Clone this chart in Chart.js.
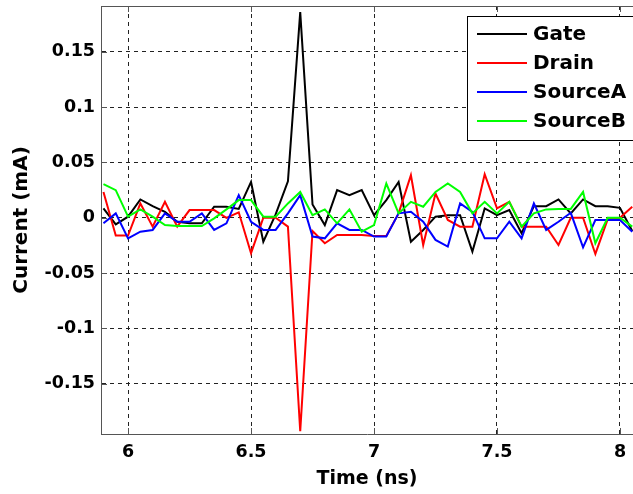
<!DOCTYPE html>
<html>
<head>
<meta charset="utf-8">
<script src="https://cdn.jsdelivr.net/npm/chart.js@4/dist/chart.umd.min.js"></script>
<style>
  body { margin: 0; background: #fff; }
  canvas { display: block; }
</style>
</head>
<body>
<canvas id="chart" width="633" height="494"></canvas>
<script>
// Time samples (ns)
const time = [5.9, 5.95, 6.0, 6.05, 6.1, 6.15, 6.2, 6.25, 6.3, 6.35, 6.4, 6.45, 6.5, 6.55, 6.6, 6.65,
    6.7, 6.75, 6.8, 6.85, 6.9, 6.95, 7.0, 7.05, 7.1, 7.15, 7.2, 7.25, 7.3, 7.35, 7.4, 7.45,
    7.5, 7.55, 7.6, 7.65, 7.7, 7.75, 7.8, 7.85, 7.9, 7.95, 8.0, 8.05];

// Currents (mA)
const gate = [0.0085, -0.006, 0.001, 0.0166, 0.0105, 0.0054, -0.0036, -0.005, -0.005, 0.01, 0.01, 0.008,
    0.0324, -0.0216, 0.003, 0.033, 0.186, 0.012, -0.0066, 0.025, 0.0205, 0.025, 0.0024, 0.016,
    0.0324, -0.0216, -0.011, 0.001, 0.0024, 0.0024, -0.0306, 0.0085, 0.0024, 0.007, -0.014, 0.0105,
    0.0105, 0.0166, 0.004, 0.0166, 0.0105, 0.0105, 0.009, -0.012];
const drain = [0.0234, -0.016, -0.016, 0.013, -0.008, 0.0144, -0.008, 0.007, 0.007, 0.007, 0, 0.005,
    -0.032, 0, 0, -0.008, -0.193, -0.012, -0.023, -0.0156, -0.0156, -0.0156, -0.0165, -0.0165,
    0.004, 0.0385, -0.0246, 0.022, -0.002, -0.008, -0.008, 0.0394, 0.0085, 0.0144, -0.008, -0.008,
    -0.008, -0.0246, 0, 0, -0.0327, -0.0015, 0, 0.01];
const sourceA = [-0.005, 0.004, -0.0186, -0.0126, -0.011, 0.004, -0.0036, -0.0036, 0.004, -0.011, -0.005, 0.0205,
    -0.0036, -0.011, -0.011, 0.004, 0.0205, -0.017, -0.0186, -0.005, -0.011, -0.011, -0.017, -0.017,
    0.004, 0.0054, -0.0036, -0.02, -0.026, 0.013, 0.0054, -0.0186, -0.0186, -0.0036, -0.0186, 0.013,
    -0.011, -0.0036, 0.0045, -0.0267, -0.002, -0.002, -0.002, -0.0126];
const sourceB = [0.0304, 0.025, 0.001, 0.0076, 0.001, -0.0066, -0.0075, -0.0075, -0.0075, -0.0005, 0.0076, 0.016,
    0.016, 0.001, 0.001, 0.013, 0.0234, 0.0024, 0.0076, -0.005, 0.0076, -0.0126, -0.0066, 0.031,
    0.004, 0.0144, 0.01, 0.0234, 0.031, 0.0234, 0.004, 0.0144, 0.004, 0.0144, -0.008, 0.004,
    0.0076, 0.008, 0.008, 0.0234, -0.023, 0, 0, -0.008];

const seriesNames = ['Gate', 'Drain', 'SourceA', 'SourceB'];
const seriesColors = ['#000000', '#ff0000', '#0000ff', '#00ff00'];

const xTicks = [6, 6.5, 7, 7.5, 8];
const xTickLabels = ['6', '6.5', '7', '7.5', '8'];
const yTicks = [-0.15, -0.1, -0.05, 0, 0.05, 0.1, 0.15];
const yTickLabels = ['-0.15', '-0.1', '-0.05', '0', '0.05', '0.1', '0.15'];

const FONT = 'DejaVu Sans';
const toPoints = arr => arr.map((v, i) => ({ x: time[i], y: v }));

// MATLAB style frame: top border, inward tick marks and the legend box
const framePlugin = {
    id: 'frame',
    afterDraw(chart) {
        const { ctx, chartArea: a, scales } = chart;
        ctx.save();
        ctx.strokeStyle = '#555';
        ctx.lineWidth = 1;
        ctx.beginPath();
        ctx.moveTo(a.left, a.top + 0.5);
        ctx.lineTo(a.right, a.top + 0.5);
        xTicks.forEach(v => {
            const px = Math.round(scales.x.getPixelForValue(v)) + 0.5;
            ctx.moveTo(px, a.bottom); ctx.lineTo(px, a.bottom - 6);
            ctx.moveTo(px, a.top); ctx.lineTo(px, a.top + 6);
        });
        yTicks.forEach(v => {
            const py = Math.round(scales.y.getPixelForValue(v)) + 0.5;
            ctx.moveTo(a.left, py); ctx.lineTo(a.left + 6, py);
        });
        ctx.stroke();

        // legend
        const lx = 467.5, ly = 16.5, lw = 180, lh = 124;
        ctx.fillStyle = '#fff';
        ctx.fillRect(lx, ly, lw, lh);
        ctx.strokeStyle = '#000';
        ctx.strokeRect(lx, ly, lw, lh);
        ctx.font = `bold 20px "${FONT}"`;
        ctx.textBaseline = 'middle';
        seriesNames.forEach((name, i) => {
            const y = 34 + i * 29;
            ctx.strokeStyle = seriesColors[i];
            ctx.lineWidth = 2;
            ctx.beginPath();
            ctx.moveTo(477, y); ctx.lineTo(527, y);
            ctx.stroke();
            ctx.fillStyle = '#000';
            ctx.fillText(name, 533, y + 1);
        });
        ctx.restore();
    }
};

const datasets = [gate, drain, sourceA, sourceB].map((arr, i) => ({
    label: seriesNames[i],
    data: toPoints(arr),
    borderColor: seriesColors[i],
    backgroundColor: seriesColors[i],
    borderWidth: 2,
    pointRadius: 0,
    tension: 0,
    order: 3 - i
}));

new Chart(document.getElementById('chart'), {
    type: 'line',
    data: { datasets },
    options: {
        responsive: false,
        animation: false,
        devicePixelRatio: 1,
        layout: { padding: { top: 6, right: 0, left: 0, bottom: 0 } },
        plugins: { legend: { display: false }, tooltip: { enabled: false } },
        scales: {
            x: {
                type: 'linear',
                min: 5.89,
                max: 8.053,
                afterBuildTicks: s => { s.ticks = xTicks.map(v => ({ value: v })); },
                afterFit: s => { s.height = 60; s.paddingLeft = 0; s.paddingRight = 0; },
                ticks: {
                    callback: (v, i) => xTickLabels[i],
                    color: '#000',
                    font: { family: FONT, size: 17.5, weight: 'bold' },
                    padding: 8,
                    maxRotation: 0,
                    autoSkip: false
                },
                grid: { color: '#222', lineWidth: 1, drawTicks: false },
                border: { color: '#555', width: 1, dash: [4, 4] },
                title: {
                    display: true,
                    text: 'Time (ns)',
                    color: '#000',
                    font: { family: FONT, size: 19, weight: 'bold', lineHeight: 1.2 },
                    padding: { top: 0, bottom: 4 }
                }
            },
            y: {
                type: 'linear',
                min: -0.1955,
                max: 0.1915,
                afterBuildTicks: s => { s.ticks = yTicks.map(v => ({ value: v })); },
                afterFit: s => { s.width = 101; s.paddingTop = 0; s.paddingBottom = 0; },
                ticks: {
                    callback: (v, i) => yTickLabels[i],
                    color: '#000',
                    font: { family: FONT, size: 17.5, weight: 'bold' },
                    padding: 6,
                    autoSkip: false
                },
                grid: { color: '#222', lineWidth: 1, drawTicks: false },
                border: { color: '#555', width: 1, dash: [4, 4] },
                title: {
                    display: true,
                    text: 'Current (mA)',
                    color: '#000',
                    font: { family: FONT, size: 20, weight: 'bold', lineHeight: 1.2 },
                    padding: { top: 10, bottom: 0 }
                }
            }
        }
    },
    plugins: [framePlugin]
});
</script>
</body>
</html>
